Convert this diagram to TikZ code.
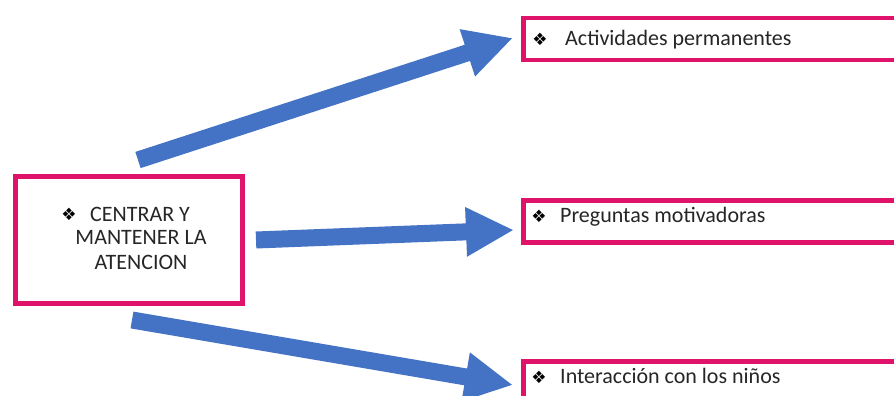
\documentclass[tikz,border=0pt]{standalone}
\usepackage{fontspec}
\setmainfont{Carlito}
\newfontfamily\symfont{DejaVu Sans}
\usetikzlibrary{arrows.meta}
\definecolor{pinkb}{HTML}{E0136B}
\definecolor{arrowblue}{HTML}{4472C4}
\tikzset{
  pinkbox/.style={draw=pinkb, line width=4.5pt, fill=white, inner sep=0pt},
  bigarrow/.style={draw=arrowblue, line width=17pt, -{Triangle[length=48pt,width=46pt]}},
  txt/.style={inner sep=0pt, font=\fontsize{22}{25}\selectfont, text=black!85},
  bul/.style={inner sep=0pt, font=\symfont\fontsize{17}{17}\selectfont}
}
\begin{document}
\begin{tikzpicture}[x=1pt,y=-1pt]
\useasboundingbox (0,0) rectangle (894,396);
\fill[white] (0,0) rectangle (894,396);
\clip (0,0) rectangle (894,396);
% left box
\node[pinkbox, minimum width=227pt, minimum height=127pt, anchor=north west] (main) at (13,174) {};
\node[bul] (u0) at (69,214) {❖};
\node[txt, anchor=base west] (m1) at (90,221) {CENTRAR Y};
\node[txt, align=center, anchor=north] (m2) at (141,230) {MANTENER LA\\ATENCION};
% right boxes
\node[pinkbox, minimum width=420pt, minimum height=42pt, anchor=north west] (b1) at (521,16) {};
\node[pinkbox, minimum width=420pt, minimum height=42pt, anchor=north west] (b2) at (521,198) {};
\node[pinkbox, minimum width=420pt, minimum height=60pt, anchor=north west] (b3) at (521,359) {};
\node[bul] (u1) at (540,39) {❖};
\node[txt, anchor=base west] (t1) at (565,46) {Actividades permanentes};
\node[bul] (u2) at (539,216) {❖};
\node[txt, anchor=base west] (t2) at (560,222) {Preguntas motivadoras};
\node[bul] (u3) at (539,377) {❖};
\node[txt, anchor=base west] (t3) at (560,383) {Interacción con los niños};
% arrows
\coordinate (s1) at (138,160);
\coordinate (e1) at (513,38);
\coordinate (s2) at (256,240);
\coordinate (e2) at (514,230);
\coordinate (s3) at (132,320);
\coordinate (e3) at (513,385);
\draw[bigarrow] (s1) -- (e1);
\draw[bigarrow] (s2) -- (e2);
\draw[bigarrow] (s3) -- (e3);
\end{tikzpicture}
\end{document}
